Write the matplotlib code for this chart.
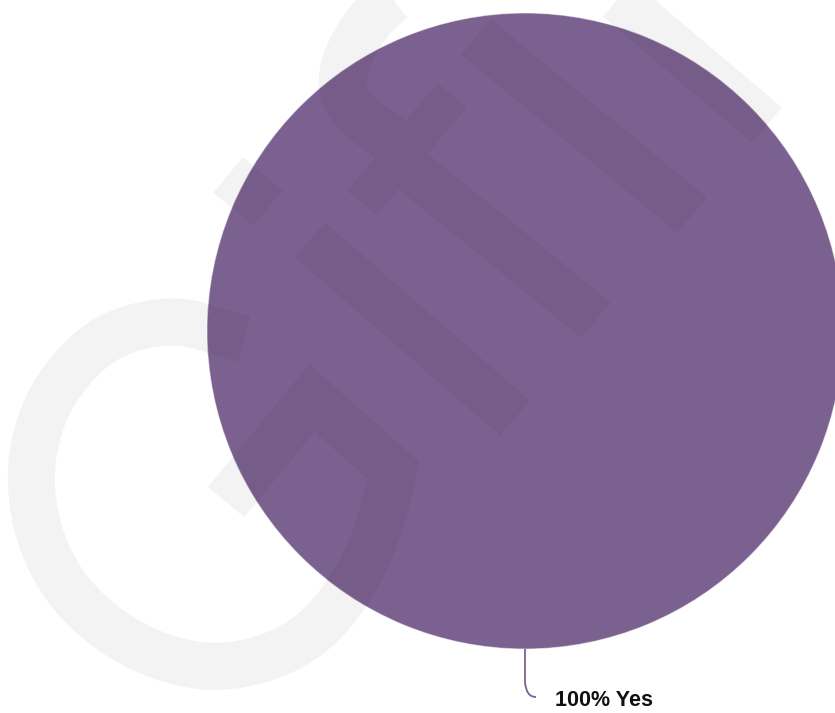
import numpy as np
import matplotlib
matplotlib.use("Agg")
import matplotlib.pyplot as plt
from matplotlib.lines import Line2D
from matplotlib.path import Path
from matplotlib.patches import PathPatch

# --- data -------------------------------------------------------------
labels = ["Yes"]
values = [100]
colors = ["#7b618f"]

W, H, DPI = 835, 713, 100
PIE_CENTER = (525, 331)
PIE_RADIUS = 318

fig = plt.figure(figsize=(W / DPI, H / DPI), dpi=DPI)
ax = fig.add_axes([0, 0, 1, 1])

wedges, _ = ax.pie(values, colors=colors, startangle=-90, counterclock=True,
                   center=PIE_CENTER, radius=PIE_RADIUS,
                   wedgeprops=dict(linewidth=0, zorder=2))
# thin light seam along the slice boundary
ax.pie(values, colors=["none"], startangle=-90, counterclock=True,
       center=PIE_CENTER, radius=PIE_RADIUS,
       wedgeprops=dict(facecolor="none", edgecolor=(1, 1, 1, 0.5),
                       linewidth=0.8, zorder=5))

ax.set_xlim(0, W)
ax.set_ylim(H, 0)
ax.set_aspect("auto")
ax.axis("off")


# --- background logo watermark (thick strokes, pixel units) -----------
def px(w):
    return w * 72.0 / DPI


def smooth(points, n=16):
    """Catmull-Rom curve through the given points."""
    p = np.asarray(points, float)
    p = np.vstack([2 * p[0] - p[1], p, 2 * p[-1] - p[-2]])
    out = []
    for i in range(1, len(p) - 2):
        p0, p1, p2, p3 = p[i - 1], p[i], p[i + 1], p[i + 2]
        for t in np.linspace(0, 1, n, endpoint=False):
            t2, t3 = t * t, t * t * t
            out.append(0.5 * ((2 * p1) + (-p0 + p2) * t +
                              (2 * p0 - 5 * p1 + 4 * p2 - p3) * t2 +
                              (-p0 + 3 * p1 - 3 * p2 + p3) * t3))
    out.append(p[-2])
    return [tuple(q) for q in out]


ring = smooth([(244, 339), (173, 322), (105, 340), (55, 392), (33, 455),
               (36, 520), (60, 578), (100, 622), (150, 652), (205, 666),
               (258, 660), (305, 638), (342, 600), (370, 550), (388, 495),
               (393, 470)])
chevron = [(312, 398), (226, 502)]

logo_strokes = [
    (47, ring + chevron),
    (48, smooth([(430, -30), (372, 18), (344, 70), (352, 108), (392, 140)])),
    (38, [(452, 95), (362, 203)]),
    (46, [(560, -50), (767, 125)]),
    (46, [(476, 37), (692, 215)]),
    (46, [(405, 165), (596, 320)]),
    (46, [(310, 240), (515, 418)]),
    (46, [(228, 175), (268, 208)]),
]

clip_wedge = wedges[0]
for width, pts in logo_strokes:
    xs, ys = zip(*pts)
    # on the white page
    ax.add_line(Line2D(xs, ys, color="#f3f3f3", lw=px(width),
                       solid_capstyle="butt", solid_joinstyle="miter", zorder=1))
    # over the pie, a slightly darker tone of the slice colour
    ln = Line2D(xs, ys, color="#765c89", lw=px(width),
                solid_capstyle="butt", solid_joinstyle="miter", zorder=3)
    ax.add_line(ln)
    ln.set_clip_path(clip_wedge)

# --- label with curved leader -----------------------------------------
w = wedges[0]
mid = np.deg2rad((w.theta1 + w.theta2) / 2.0)
ax0 = w.center[0] + w.r * np.cos(mid)
ay0 = w.center[1] + w.r * np.sin(mid)

leader = Path([(ax0, ay0), (ax0, ay0 + 33), (ax0 + 1, ay0 + 48), (ax0 + 11, ay0 + 48)],
              [Path.MOVETO, Path.LINETO, Path.CURVE3, Path.CURVE3])
ax.add_patch(PathPatch(leader, facecolor="none", edgecolor=colors[0], lw=1.3, zorder=6))

ax.text(ax0 + 30, ay0 + 52, f"{values[0]}% {labels[0]}", fontsize=15.5,
        fontweight="bold", family=["Liberation Sans", "DejaVu Sans"],
        color="#111111", ha="left", va="center", zorder=6)

fig.savefig("out.png", dpi=DPI, facecolor="white")
